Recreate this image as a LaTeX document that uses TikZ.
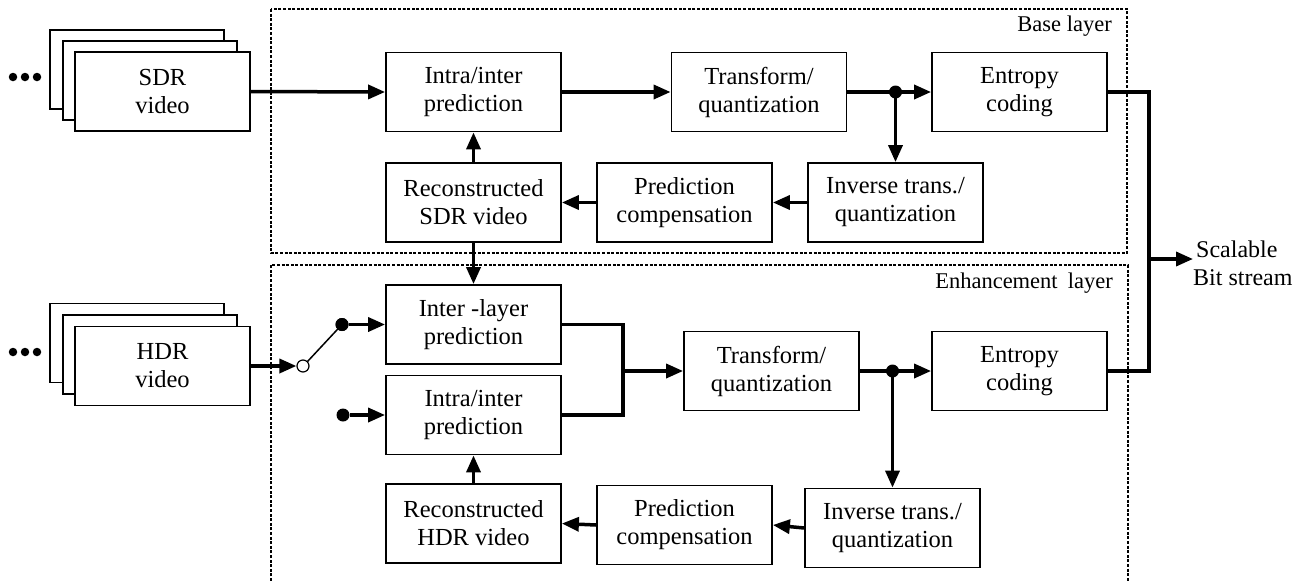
\documentclass[tikz,border=0pt]{standalone}
\usepackage{fontspec}
\setmainfont{Liberation Serif}
\usetikzlibrary{arrows.meta}

\tikzset{
  blk/.style={draw, line width=1.8pt, fill=white, minimum width=175pt, minimum height=79pt,
              inner sep=0pt, align=center, font=\fontsize{24.5}{28}\selectfont},
  frame/.style={draw, line width=1.8pt, fill=white, minimum width=174pt, minimum height=79pt, inner sep=0pt},
  flow/.style={line width=3.5pt, -{Triangle[length=17pt,width=14pt]}},
  wire/.style={line width=3.5pt},
  layer/.style={line width=1.1pt, dash pattern=on 3pt off 1.6pt},
  junction/.style={circle, fill=black, inner sep=0pt, minimum size=13pt},
  dotmark/.style={circle, fill=black, inner sep=0pt, minimum size=8.5pt},
  lbl/.style={font=\fontsize{22.5}{27}\selectfont, inner sep=0pt}
}

\begin{document}
\begin{tikzpicture}[x=1pt, y=-1pt]
\useasboundingbox (0,0) rectangle (1302,581);

% layer frames
\draw[layer] (271,9) rectangle (1127,253);
\draw[layer] (271,581) -- (271,265) -- (1128,265) -- (1128,581);
\node[lbl, anchor=base east] (blayer) at (1112,31) {Base layer};
\node[lbl, anchor=base east] (elayer) at (1113,288) {Enhancement\hspace{0.45em}layer};

% input sequences
\node[frame] (sdrback) at (137,69.5) {};
\node[frame] (sdrmid) at (150,80.5) {};
\node[blk] (sdr) at (162.5,91.5) {SDR\\video};
\node[dotmark] (sdrd1) at (13,77) {};
\node[dotmark] (sdrd2) at (25,77) {};
\node[dotmark] (sdrd3) at (37,77) {};

\node[frame] (hdrback) at (137,343) {};
\node[frame] (hdrmid) at (150,354.5) {};
\node[blk] (hdr) at (162.5,366) {HDR\\video};
\node[dotmark] (hdrd1) at (13,352) {};
\node[dotmark] (hdrd2) at (25,352) {};
\node[dotmark] (hdrd3) at (37,352) {};

% base layer
\node[blk] (bintra) at (473.5,92) {Intra/inter\\prediction};
\node[blk] (btrans) at (759,92) {Transform/\\quantization};
\node[blk] (bent) at (1019.5,92) {Entropy\\coding};
\node[blk] (brec) at (473.5,202.5) {Reconstructed\\SDR video};
\node[blk] (bpc) at (684.5,202.5) {Prediction\\compensation};
\node[blk] (binv) at (895.5,202.5) {Inverse trans./\\quantization};

% enhancement layer
\node[blk] (einter) at (473.5,324.5) {Inter -layer\\prediction};
\node[blk] (eintra) at (473.5,415) {Intra/inter\\prediction};
\node[blk] (etrans) at (771.5,371) {Transform/\\quantization};
\node[blk] (eent) at (1019.5,371) {Entropy\\coding};
\node[blk] (erec) at (473.5,523.5) {Reconstructed\\HDR video};
\node[blk] (epc) at (684.5,525) {Prediction\\compensation};
\node[blk] (einv) at (892.5,528) {Inverse trans./\\quantization};

% base layer connections
\draw[flow] (sdr.east) -- (bintra.west);
\draw[flow] (bintra.east) -- (btrans.west);
\coordinate (bj) at (binv.north |- btrans.east);
\draw[wire] (btrans.east) -- (bj);
\draw[flow] (bj) -- (bent.west);
\draw[flow] (bj) -- (binv.north);
\node[junction] (bjdot) at (bj) {};
\draw[flow] (binv.west) -- (bpc.east);
\draw[flow] (bpc.west) -- (brec.east);
\draw[flow] (brec.north) -- (bintra.south);
\draw[flow] (brec.south) -- (einter.north);

% switch between the two prediction paths
\node[circle, draw, fill=white, line width=1.2pt, inner sep=0pt, minimum size=12pt] (sw) at (303,366) {};
\node[junction] (s1) at (342,324.5) {};
\node[junction] (s2) at (343,415) {};
\draw[flow] (hdr.east) -- (sw.west);
\draw[line width=1.5pt] (sw.north east) -- (s1.center);
\node[junction] at (s1) {};
\draw[flow] (s1.east) -- (einter.west);
\draw[flow] (s2.east) -- (eintra.west);

% enhancement layer connections
\coordinate (mx) at (623,371);
\draw[wire] (einter.east) -- (mx |- einter.east) -- (mx |- eintra.east) -- (eintra.east);
\draw[flow] (mx |- etrans.west) -- (etrans.west);
\coordinate (ej) at (einv.north |- etrans.east);
\draw[wire] (etrans.east) -- (ej);
\draw[flow] (ej) -- (eent.west);
\draw[flow] (ej) -- (einv.north);
\node[junction] (ejdot) at (ej) {};
\draw[flow] (einv.west) -- (epc.east);
\draw[flow] (epc.west) -- (erec.east);
\draw[flow] (erec.north) -- (eintra.south);

% output multiplexing
\coordinate (bus) at (1149,259);
\draw[wire] (bent.east) -- (bus |- bent.east) -- (bus |- eent.east) -- (eent.east);
\node[lbl, font=\fontsize{24}{28}\selectfont, align=left, anchor=west] (out) at (1193,263) {\hspace{3pt}Scalable\\Bit stream};
\draw[flow] (bus) -- (out.west |- bus);
\end{tikzpicture}
\end{document}
